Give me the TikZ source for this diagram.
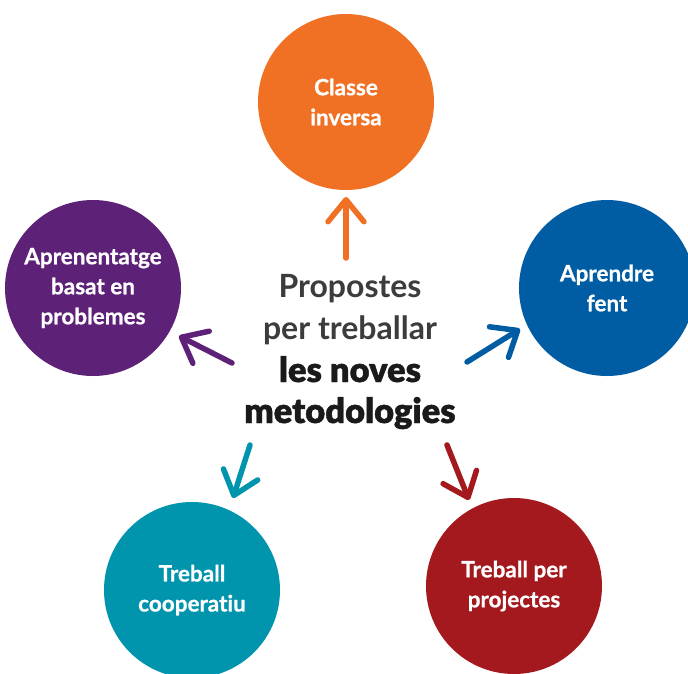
\documentclass[tikz,border=0pt]{standalone}
\usepackage{fontspec}
\setmainfont{Lato}[Ligatures=NoCommon]
\newfontfamily\blackfont{Lato Black}[FakeBold=1.2, Ligatures=NoCommon]
\newfontfamily\circfont{Lato Bold}[FakeBold=0.8, Ligatures=NoCommon]
\usetikzlibrary{arrows.meta}
\definecolor{cOrange}{HTML}{F07124}
\definecolor{cBlue}{HTML}{005DA4}
\definecolor{cPurple}{HTML}{5E2178}
\definecolor{cTeal}{HTML}{0094AD}
\definecolor{cRed}{HTML}{A3191E}
\definecolor{cGray}{HTML}{3C3C3C}
\definecolor{cBlack}{HTML}{1A1A1A}
\tikzset{
  circ/.style={circle, minimum size=176pt, inner sep=0pt, text=white, align=center,
    font=\circfont\fontsize{22.5}{30}\selectfont},
  grayline/.style={anchor=base, inner sep=0pt, text=cGray, font=\bfseries\fontsize{32}{38}\selectfont},
  blackline/.style={anchor=base, inner sep=0pt, text=cBlack, font=\blackfont\fontsize{34.5}{40}\selectfont},
  arr/.style={line width=5.5pt, line cap=round,
    -{Straight Barb[length=22pt,width=36pt,round]}}
}
\begin{document}
\begin{tikzpicture}[x=1pt,y=-1pt]
\useasboundingbox (0,0) rectangle (688,673);
\node[circ, fill=cOrange] (cls) at (346,102) {Classe\\inversa};
\node[circ, fill=cBlue] (apf) at (607,288) {Aprendre\\fent};
\node[circ, fill=cPurple] (abp) at (93,288) {Aprenentatge\\basat en\\problemes};
\node[circ, fill=cTeal] (tco) at (192,590) {Treball\\cooperatiu};
\node[circ, fill=cRed] (tpp) at (514,586) {Treball per\\projectes};
\node[grayline] (l1) at (350,297) {Propostes};
\node[grayline] (l2) at (350,339) {per treballar};
\node[blackline] (l3) at (350,382) {les noves};
\node[blackline] (l4) at (350,423) {metodologies};
\coordinate (o1) at (346,258); \coordinate (o2) at (346,197);
\coordinate (p1) at (232,363); \coordinate (p2) at (179,336);
\coordinate (b1) at (467,362); \coordinate (b2) at (520,329);
\coordinate (t1) at (250,445); \coordinate (t2) at (233,498);
\coordinate (r1) at (447,445); \coordinate (r2) at (469,500);
\draw[arr, cOrange] (o1) -- (o2);
\draw[arr, cPurple] (p1) -- (p2);
\draw[arr, cBlue] (b1) -- (b2);
\draw[arr, cTeal] (t1) -- (t2);
\draw[arr, cRed] (r1) -- (r2);
\end{tikzpicture}
\end{document}
